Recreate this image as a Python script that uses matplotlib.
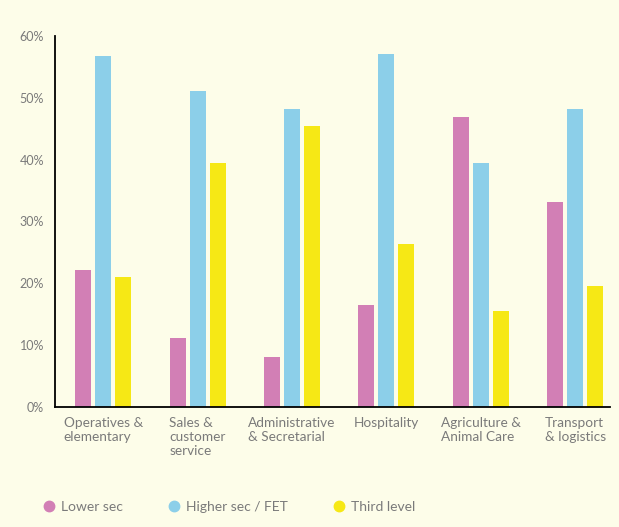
import matplotlib
matplotlib.use("Agg")
import matplotlib.pyplot as plt
from matplotlib.lines import Line2D
import numpy as np

categories = ["Operatives &\nelementary", "Sales &\ncustomer\nservice", "Administrative\n& Secretarial",
              "Hospitality", "Agriculture &\nAnimal Care", "Transport\n& logistics"]
series_names = ["Lower sec", "Higher sec / FET", "Third level"]
lower_sec = [22.2, 11.2, 8.1, 16.5, 46.9, 33.2]
higher_sec = [56.8, 51.1, 48.2, 57.1, 39.5, 48.2]
third_level = [21.0, 39.5, 45.5, 26.4, 15.5, 19.6]
yticks = [0, 10, 20, 30, 40, 50, 60]
ytick_labels = ["0%", "10%", "20%", "30%", "40%", "50%", "60%"]

colors = ["#d27fb5", "#8ccfe9", "#f6e815"]
bg = "#fdfde9"
txt = "#7a7a7a"

plt.rcParams['font.family'] = ['Lato', 'DejaVu Sans']

fig = plt.figure(figsize=(6.19, 5.27), dpi=100, facecolor=bg)
ax = fig.add_axes([0.0889, 0.2277, 0.8966, 0.704])
ax.set_facecolor(bg)

x = np.arange(len(categories))
w = 0.17
off = 0.212
for i, (vals, c) in enumerate(zip([lower_sec, higher_sec, third_level], colors)):
    ax.bar(x + (i - 1) * off, vals, width=w, color=c, zorder=2)

ax.set_xlim(-0.51, 5.37)
ax.set_ylim(0, 60)
ax.set_yticks(yticks)
ax.set_yticklabels(ytick_labels)
ax.set_xticks(x)
ax.set_xticklabels(categories, multialignment='left', linespacing=1.2)
ax.tick_params(axis='both', length=0, colors=txt)
ax.tick_params(axis='y', labelsize=9, pad=8)
ax.tick_params(axis='x', labelsize=9.8, pad=7)
for lbl in ax.get_xticklabels():
    lbl.set_verticalalignment('top')
for s in ['top', 'right']:
    ax.spines[s].set_visible(False)
for s in ['left', 'bottom']:
    ax.spines[s].set_color('black')
    ax.spines[s].set_linewidth(1.3)

handles = [Line2D([], [], marker='o', linestyle='none', markersize=7.5,
                  markerfacecolor=c, markeredgecolor=c) for c in colors]
leg = fig.legend(handles, series_names, loc='center left', bbox_to_anchor=(0.048, 0.038),
                 ncol=3, frameon=False, fontsize=10, handletextpad=0.35,
                 columnspacing=3.2, handlelength=1.0, labelcolor=txt)

fig.savefig("out.png", dpi=100, facecolor=bg)
